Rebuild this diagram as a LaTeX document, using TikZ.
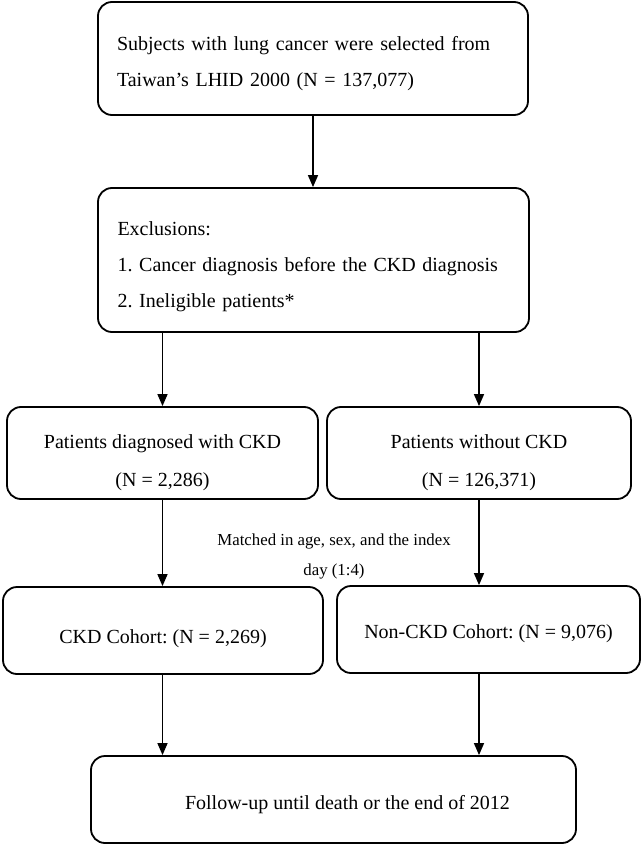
\documentclass[tikz,border=0pt]{standalone}
\usepackage{fontspec}
\setmainfont{Liberation Serif}
\usetikzlibrary{arrows.meta}
\frenchspacing
\newcommand{\lift}[1]{\rule{0pt}{#1}}

\begin{document}
\begin{tikzpicture}[x=0.5pt,y=-0.5pt,
  box/.style={draw, line width=0.9pt, rounded corners=7pt, font=\fontsize{10}{18}\selectfont},
  arr/.style={line width=0.7pt, -{Triangle[length=6pt,width=5pt]}}]

\useasboundingbox (0,0) rectangle (643,845);

\node[box, minimum width=215pt, minimum height=56.5pt, text width=196pt, align=left, inner sep=0pt] (select) at (313,58.5) {\lift{12pt}Subjects with lung cancer were selected from\\Taiwan's LHID 2000 (N = 137,077)};

\node[box, minimum width=215.5pt, minimum height=72pt, text width=196pt, align=left, inner sep=0pt] (excl) at (313.5,260) {\lift{14pt}Exclusions:\\1. Cancer diagnosis before the CKD diagnosis\\2. Ineligible patients*};

\node[box, minimum width=155.5pt, minimum height=46pt, align=center, font=\fontsize{10}{19}\selectfont] (ckd) at (162.5,453) {\lift{17pt}Patients diagnosed with CKD\\(N = 2,286)};
\node[box, minimum width=152pt, minimum height=46pt, align=center, font=\fontsize{10}{19}\selectfont] (nockd) at (479,453) {\lift{17pt}Patients without CKD\\(N = 126,371)};

\node[box, minimum width=160pt, minimum height=43.5pt] (ckdcoh) at (163,630.5) {\lift{15pt}CKD Cohort: (N = 2,269)};
\node[box, minimum width=151.5pt, minimum height=43.5pt] (nockdcoh) at (488.5,629.5) {\lift{11pt}Non-CKD Cohort: (N = 9,076)};

\node[box, minimum width=242.5pt, minimum height=43.5pt] (follow) at (333.5,799.5) {\lift{12pt}\hspace*{14pt}Follow-up until death or the end of 2012};

\node[align=center, font=\fontsize{8.4}{15}\selectfont] (match) at (334,556) {Matched in age, sex, and the index\\day (1:4)};

\draw[arr] (select.south) -- (select.south |- excl.north);
\draw[arr] (excl.south -| ckd.north) -- (ckd.north);
\draw[arr] (excl.south -| nockd.north) -- (nockd.north);
\draw[arr] (ckd.south) -- (ckd.south |- ckdcoh.north);
\draw[arr] (nockd.south) -- (nockd.south |- nockdcoh.north);
\draw[arr] (ckd.south |- ckdcoh.south) -- (ckd.south |- follow.north);
\draw[arr] (nockd.south |- nockdcoh.south) -- (nockd.south |- follow.north);

\end{tikzpicture}
\end{document}
